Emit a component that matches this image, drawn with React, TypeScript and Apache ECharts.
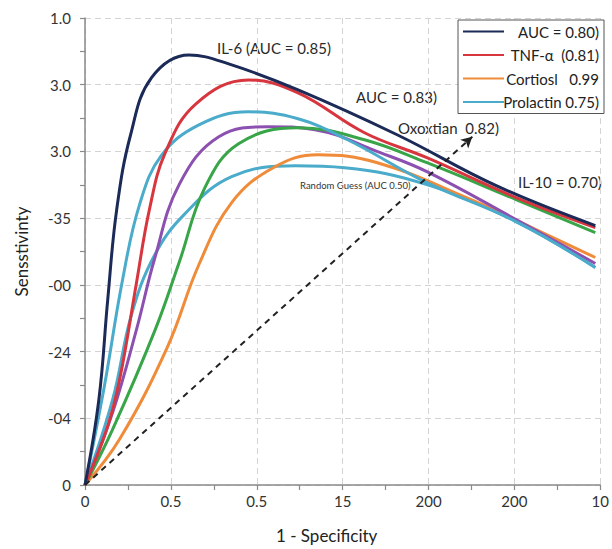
import React, { useEffect, useRef } from "react";
import * as echarts from "echarts";

const FONT = 'Lato, "Open Sans", sans-serif';

// Tick labels (as printed on the reference)
const xTickLabels = ["0", "0.5", "0.5", "15", "200", "200", "10"];
const yTickLabels = ["0", "-04", "-24", "-00", "-35", "3.0", "3.0", "1.0"];

// Curves: [x, y] in axis units (x: 0..6, y: 0..7)
const il6Curve = [
  [0, 0], [0.162, 1.286], [0.265, 2.782], [0.369, 4.128], [0.531, 5.25], [0.773, 6.102],
  [1.211, 6.446], [1.673, 6.312], [2.481, 5.923], [3.634, 5.25], [4.788, 4.487], [5.942, 3.889],
];
const tnfCurve = [
  [0, 0], [0.254, 0.838], [0.404, 1.585], [0.6, 3.036], [0.75, 4.128], [0.935, 4.981],
  [1.292, 5.714], [1.904, 6.072], [2.481, 5.878], [3.254, 5.28], [3.981, 4.906],
  [5.019, 4.308], [5.942, 3.859],
];
const prolactinCurve = [
  [0, 0], [0.219, 1.436], [0.438, 3.081], [0.635, 4.203], [0.888, 4.936], [1.327, 5.399],
  [1.904, 5.594], [2.481, 5.489], [3.058, 5.175], [3.981, 4.532], [5.019, 3.949], [5.942, 3.261],
];
const oxoxtianCurve = [
  [0, 0], [0.323, 1.092], [0.6, 2.333], [0.808, 3.38], [1.096, 4.502], [1.558, 5.22],
  [2.135, 5.37], [2.677, 5.325], [3.438, 4.981], [3.981, 4.697], [5.019, 3.979], [5.942, 3.32],
];
const il10Curve = [
  [0, 0], [0.323, 0.838], [0.819, 2.333], [1.096, 3.335], [1.396, 4.457], [1.788, 5.115],
  [2.481, 5.355], [3.254, 5.175], [3.981, 4.831], [5.019, 4.278], [5.942, 3.784],
];
const cortisolCurve = [
  [0, 0], [0.404, 0.688], [0.958, 2.064], [1.327, 3.305], [1.708, 4.233], [2.192, 4.756],
  [2.711, 4.951], [3.404, 4.831], [4.442, 4.308], [5.25, 3.829], [5.942, 3.41],
];
const lowerBlueCurve = [
  [0, 0], [0.323, 1.286], [0.542, 2.558], [0.808, 3.44], [1.154, 4.053], [1.708, 4.622],
  [2.446, 4.786], [3.023, 4.756], [3.981, 4.502], [5.019, 3.949], [5.942, 3.261],
];
const randomGuessStart = [0, 0];
const randomGuessEnd = [4.51, 5.22];

const NAVY = "#1b2a56";
const RED = "#d8363f";
const ORANGE = "#f08b3a";
const LBLUE = "#4aabca";
const PURPLE = "#8c50b0";
const GREEN = "#38a548";

const legendNames = ["AUC = 0.80)", "TNF-α  (0.81)", "Cortiosl   0.99", "Prolactin 0.75)"];

function lineSeries(name: string, data: number[][], color: string) {
  return {
    type: "line",
    name,
    data,
    smooth: 0.4,
    showSymbol: false,
    symbol: "none",
    lineStyle: { color, width: 3 },
    itemStyle: { color },
    silent: true,
  };
}

export default function App() {
  const ref = useRef<HTMLDivElement>(null);
  useEffect(() => {
    if (!ref.current) return;
    const chart = echarts.init(ref.current, undefined, { renderer: "svg" });
    const axisColor = "#8a8a8a";
    const splitLine = { show: true, lineStyle: { color: "#d4d4d4", type: [6, 4], width: 1 } };
    chart.setOption({
      animation: false,
      backgroundColor: "#ffffff",
      grid: { left: 85, right: 7, top: 18, bottom: 63 },
      xAxis: {
        type: "value",
        min: 0,
        max: 6,
        interval: 1,
        name: "1 - Specificity",
        nameLocation: "middle",
        nameGap: 42,
        nameTextStyle: { fontSize: 17, color: "#222", fontFamily: FONT, padding: [0, 32, 0, 0] },
        axisLine: { lineStyle: { color: axisColor, width: 1.5 } },
        axisTick: { show: true, length: 5, lineStyle: { color: axisColor, width: 1.2 } },
        minorTick: { show: true, splitNumber: 2, length: 5, lineStyle: { color: axisColor, width: 1.2 } },
        splitLine,
        axisLabel: {
          formatter: (v: number) => xTickLabels[Math.round(v)] ?? "",
          fontSize: 15,
          color: "#333",
          fontFamily: FONT,
          margin: 8,
          showMaxLabel: true,
        },
      },
      yAxis: {
        type: "value",
        min: 0,
        max: 7,
        interval: 1,
        name: "Sensstivinty",
        nameLocation: "middle",
        nameGap: 55,
        nameTextStyle: { fontSize: 17, color: "#222", fontFamily: FONT },
        axisLine: { show: true, lineStyle: { color: axisColor, width: 1.5 } },
        axisTick: { show: true, length: 5, lineStyle: { color: axisColor, width: 1.2 } },
        minorTick: { show: true, splitNumber: 2, length: 5, lineStyle: { color: axisColor, width: 1.2 } },
        splitLine,
        axisLabel: {
          formatter: (v: number) => yTickLabels[Math.round(v)] ?? "",
          fontSize: 15,
          color: "#333",
          fontFamily: FONT,
          margin: 14,
        },
      },
      legend: {
        data: legendNames,
        orient: "vertical",
        right: 8,
        top: 20,
        itemWidth: 41,
        itemHeight: 14,
        itemGap: 8.5,
        padding: [4, 5, 4, 4],
        borderColor: "#555",
        borderWidth: 1,
        backgroundColor: "#ffffff",
        selectedMode: false,
        itemStyle: { opacity: 0 },
        formatter: (n: string) => `{t|${n}}`,
        textStyle: {
          fontFamily: FONT,
          fontSize: 15,
          color: "#222",
          rich: { t: { width: 90, align: "right", fontSize: 15, fontFamily: FONT, color: "#222" } },
        },
      },
      graphic: [
        { type: "text", x: 217, y: 48, silent: true, style: { text: "IL-6 (AUC = 0.85)", fill: "#2a2a2a", font: `15px ${FONT}`, verticalAlign: "middle" } },
        { type: "text", x: 356, y: 97, silent: true, style: { text: "AUC = 0.83)", fill: "#2a2a2a", font: `15px ${FONT}`, verticalAlign: "middle" } },
        { type: "text", x: 398, y: 128, silent: true, style: { text: "Oxoxtian  0.82)", fill: "#2a2a2a", font: `15px ${FONT}`, verticalAlign: "middle" } },
        { type: "text", x: 300, y: 185, silent: true, style: { text: "Random Guess (AUC 0.50)", fill: "#333", font: `9.5px ${FONT}`, verticalAlign: "middle" } },
        { type: "text", x: 518, y: 182, silent: true, style: { text: "IL-10 = 0.70)", fill: "#2a2a2a", font: `15px ${FONT}`, verticalAlign: "middle" } },
      ],
      series: [
        {
          type: "line",
          name: "Random Guess",
          data: [],
          silent: true,
          markLine: {
            silent: true,
            symbol: ["none", "arrow"],
            symbolSize: [9, 11],
            label: { show: false },
            lineStyle: { color: "#222", width: 2, type: [6, 5] },
            data: [[{ coord: randomGuessStart }, { coord: randomGuessEnd }]],
          },
        },
        lineSeries("Lower", lowerBlueCurve, LBLUE),
        lineSeries("Cortiosl   0.99", cortisolCurve, ORANGE),
        lineSeries("Oxoxtian", oxoxtianCurve, PURPLE),
        lineSeries("IL-10", il10Curve, GREEN),
        lineSeries("Prolactin 0.75)", prolactinCurve, LBLUE),
        lineSeries("TNF-α  (0.81)", tnfCurve, RED),
        lineSeries("AUC = 0.80)", il6Curve, NAVY),
      ],
    });
    return () => chart.dispose();
  }, []);
  return (
    <div
      ref={ref}
      style={{ position: "fixed", left: 0, top: 0, width: 612, height: 549, background: "#fff" }}
    />
  );
}
